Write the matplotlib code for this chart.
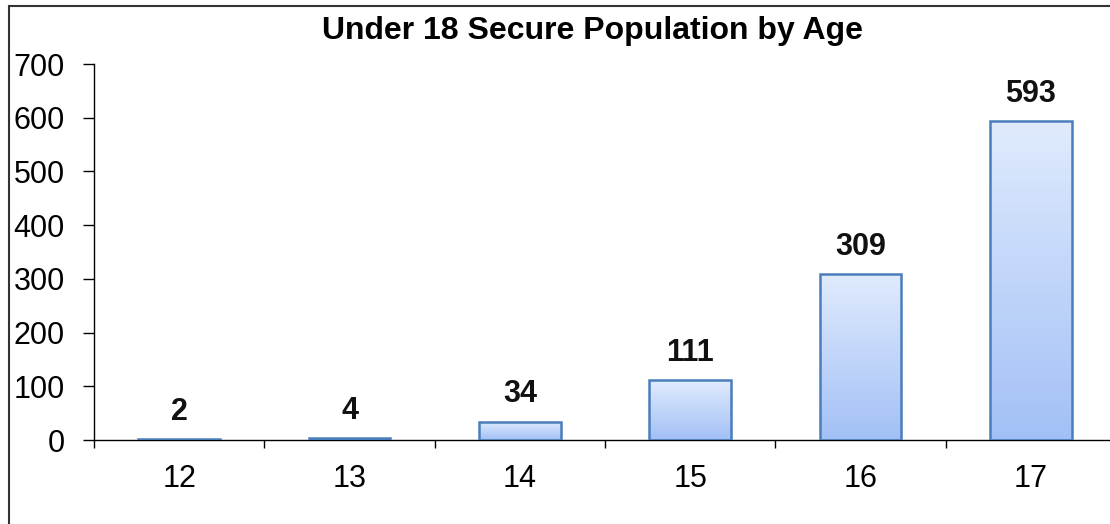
import matplotlib.pyplot as plt
import numpy as np
from matplotlib.patches import Rectangle
from matplotlib.colors import LinearSegmentedColormap

plt.rcParams['font.family'] = ['Liberation Sans', 'DejaVu Sans']

ages = ['12', '13', '14', '15', '16', '17']
counts = [2, 4, 34, 111, 309, 593]
yticks = [0, 100, 200, 300, 400, 500, 600, 700]

fig = plt.figure(figsize=(11.1, 5.24), dpi=100)
ax = fig.add_axes([94 / 1110, 1 - 440 / 524, 1022 / 1110, 376 / 524])

x = np.arange(len(ages))
bars = ax.bar(x, counts, width=0.48, facecolor='none', edgecolor='#4a7ebb',
              linewidth=1.8, zorder=3)

# vertical gradient inside each bar
cmap = LinearSegmentedColormap.from_list('g', ['#a2c0f6', '#e0ebfd'])
grad = np.linspace(0, 1, 256).reshape(-1, 1)
for b in bars:
    x0, w, h = b.get_x(), b.get_width(), b.get_height()
    im = ax.imshow(grad, cmap=cmap, origin='lower', aspect='auto',
                   extent=[x0, x0 + w, 0, h], zorder=2)
    im.set_clip_path(b)

for xi, v in zip(x, counts):
    ax.text(xi, v + 36, str(v), ha='center', va='baseline', fontsize=22,
            fontweight='bold', color='#111111')

ax.set_xlim(-0.5, len(ages) - 0.5)
ax.set_ylim(0, 700)
ax.set_yticks(yticks)
ax.set_yticklabels([str(t) for t in yticks], fontsize=22)
ax.set_xticks(x)
ax.set_xticklabels(ages, fontsize=22)
ax.set_xticks(np.arange(-0.5, len(ages), 1), minor=True)
ax.tick_params(axis='x', which='major', length=0, pad=17)
ax.tick_params(axis='x', which='minor', length=6, width=1)
ax.tick_params(axis='y', length=8, width=1, pad=13)
for s in ['top', 'right']:
    ax.spines[s].set_visible(False)
ax.spines['left'].set_linewidth(1)
ax.spines['bottom'].set_linewidth(1)

fig.text(593 / 1110, 1 - 39 / 524, 'Under 18 Secure Population by Age',
         ha='center', va='baseline', fontsize=23, fontweight='bold')

# outer chart frame
fig.patches.append(Rectangle((9 / 1110, -0.1), 1.2, 1 - 6 / 524 + 0.1,
                             transform=fig.transFigure, fill=False,
                             edgecolor='#333333', linewidth=1.5))

fig.savefig('out.png', dpi=100)
